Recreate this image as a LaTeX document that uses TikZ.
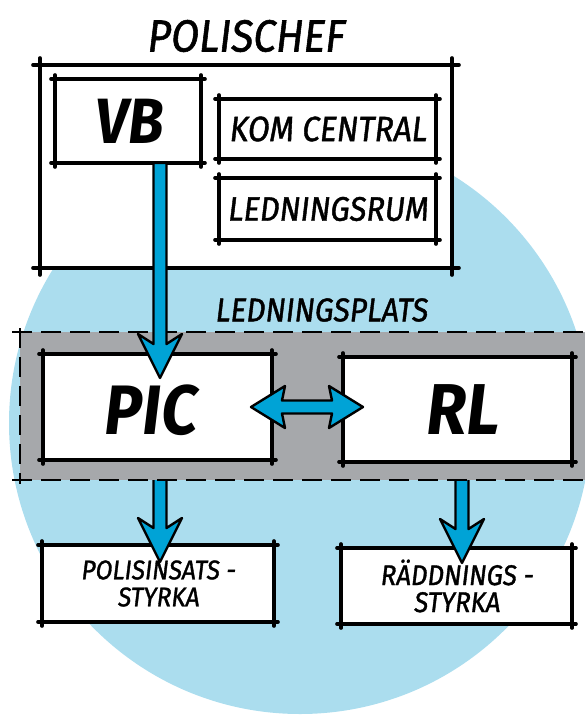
\documentclass[tikz,border=0pt]{standalone}
\usepackage{fontspec}
\newfontfamily\hand[FakeStretch=0.9,FakeSlant=0.12]{Fira Sans}
\newfontfamily\handm[FakeStretch=0.9,FakeSlant=0.12,FakeBold=1.2]{Fira Sans}
\usetikzlibrary{calc}
\definecolor{circblue}{HTML}{ABDDEE}
\definecolor{bandgray}{HTML}{A6A8AB}
\definecolor{arrblue}{HTML}{00A3D6}
\pgfdeclarelayer{lzero}
\pgfdeclarelayer{lone}
\pgfdeclarelayer{ltwo}
\pgfdeclarelayer{lthree}
\pgfsetlayers{lzero,lone,ltwo,lthree,main}
\tikzset{
  skline/.style={line width=3.6pt, line cap=round, draw=black},
  whitebox/.style={fill=white, draw=none, inner sep=0pt, outer sep=0pt, text=black},
  txt/.style={inner sep=0pt, outer sep=0pt, text=black},
  arrowsty/.style={fill=arrblue, draw=black, line width=2.4pt, line join=round},
  dashline/.style={draw=black, line width=2.8pt, dash pattern=on 20pt off 9pt}
}
\newcommand{\sketchbox}[2][4pt]{%
  \draw[skline] ([xshift=-#1]#2.north west) -- ([xshift=#1]#2.north east)
                ([xshift=-#1]#2.south west) -- ([xshift=#1]#2.south east)
                ([yshift=#1]#2.north west) -- ([yshift=-#1]#2.south west)
                ([yshift=#1]#2.north east) -- ([yshift=-#1]#2.south east);}
\newcommand{\fatdown}[2]{%
  \filldraw[arrowsty] let \p1=#1, \p2=#2 in
    (\x1-6.5pt,\y1) -- (\x1-6.5pt,\y2+34pt) -- (\x1-22pt,\y2+44pt) -- (\x1,\y2)
    -- (\x1+22pt,\y2+44pt) -- (\x1+6.5pt,\y2+34pt) -- (\x1+6.5pt,\y1) -- cycle;}
\newcommand{\fatboth}[2]{%
  \filldraw[arrowsty] let \p1=#1, \p2=#2 in
    (\x1,\y1) -- (\x1+34pt,\y1+21pt) -- (\x1+31pt,\y1+6.5pt) -- (\x2-31pt,\y1+6.5pt)
    -- (\x2-34pt,\y1+21pt) -- (\x2,\y1) -- (\x2-34pt,\y1-21pt) -- (\x2-31pt,\y1-6.5pt)
    -- (\x1+31pt,\y1-6.5pt) -- (\x1+34pt,\y1-21pt) -- cycle;}
\begin{document}
\begin{tikzpicture}[x=1pt,y=-1pt]
\useasboundingbox (0,0) rectangle (584,717);
% background circle
\begin{pgfonlayer}{lzero}
  \fill[circblue] (300,423) circle (291pt);
\end{pgfonlayer}
% top group
\begin{pgfonlayer}{lone}
  \node[txt, font=\handm\fontsize{45}{50}\selectfont] (title) at (245,36) {POLISCHEF};
  \node[whitebox, minimum width=412pt, minimum height=203pt] (chef) at (246,166.5) {};
  \sketchbox[7pt]{chef}
  \node[whitebox, minimum width=146pt, minimum height=84pt,
        font=\hand\bfseries\fontsize{64}{70}\selectfont] (vb) at (128,121) {VB};
  \sketchbox{vb}
  \node[whitebox, minimum width=217pt, minimum height=60pt,
        font=\handm\fontsize{35}{40}\selectfont] (kom) at (327.5,129) {KOM CENTRAL};
  \sketchbox{kom}
  \node[whitebox, minimum width=217pt, minimum height=62pt,
        font=\handm\fontsize{34}{40}\selectfont] (rum) at (327.5,209) {LEDNINGSRUM};
  \sketchbox{rum}
  \node[txt, font=\handm\fontsize{33}{38}\selectfont] (plats) at (321,310) {LEDNINGSPLATS};
  \node[whitebox, minimum width=232pt, minimum height=77pt, align=center,
        font=\handm\fontsize{27}{27}\selectfont] (pol) at (158,583.5) {POLISINSATS -\\STYRKA};
  \sketchbox{pol}
  \node[whitebox, minimum width=231pt, minimum height=76pt, align=center,
        font=\handm\fontsize{28.5}{27}\selectfont] (rad) at (456.5,586) {RÄDDNINGS -\\STYRKA};
  \sketchbox{rad}
\end{pgfonlayer}
% lower boxes in the band
\node[whitebox, minimum width=229pt, minimum height=106pt] (pic) at (157.5,407) {};
\node[txt, font=\hand\bfseries\fontsize{70}{76}\selectfont] (pictext) at (149,410) {PIC};
\sketchbox{pic}
\node[whitebox, minimum width=229pt, minimum height=105pt] (rl) at (457.5,409.5) {};
\node[txt, font=\hand\bfseries\fontsize{72}{78}\selectfont] (rltext) at (461,410) {RL};
\sketchbox{rl}
% band
\begin{pgfonlayer}{lthree}
  \node[fill=bandgray, draw=none, inner sep=0pt, outer sep=0pt,
        minimum width=566pt, minimum height=148pt] (band) at (303,406) {};
  \draw[dashline] ([xshift=-8pt]band.north west) -- (band.north east);
  \draw[dashline] ([xshift=-8pt]band.south west) -- (band.south east);
  \draw[dashline] ([yshift=4pt]band.north west) -- ([yshift=-4pt]band.south west);
\end{pgfonlayer}
% lower arrows (under the band)
\begin{pgfonlayer}{ltwo}
  \fatdown{([xshift=2.5pt]pic.south)}{([xshift=2.5pt,yshift=-17pt]pol.north -| pic.south)}
  \fatdown{([xshift=4.5pt]rl.south)}{([xshift=4.5pt,yshift=-15pt]rad.north -| rl.south)}
\end{pgfonlayer}
% top arrow and double arrow
\fatdown{([xshift=2.5pt]vb.south -| pic.north)}{([xshift=2.5pt,yshift=-24pt]pic.north)}
\fatboth{([xshift=-21pt]pic.east)}{([xshift=20pt]rl.west |- pic.east)}
\end{tikzpicture}
\end{document}
